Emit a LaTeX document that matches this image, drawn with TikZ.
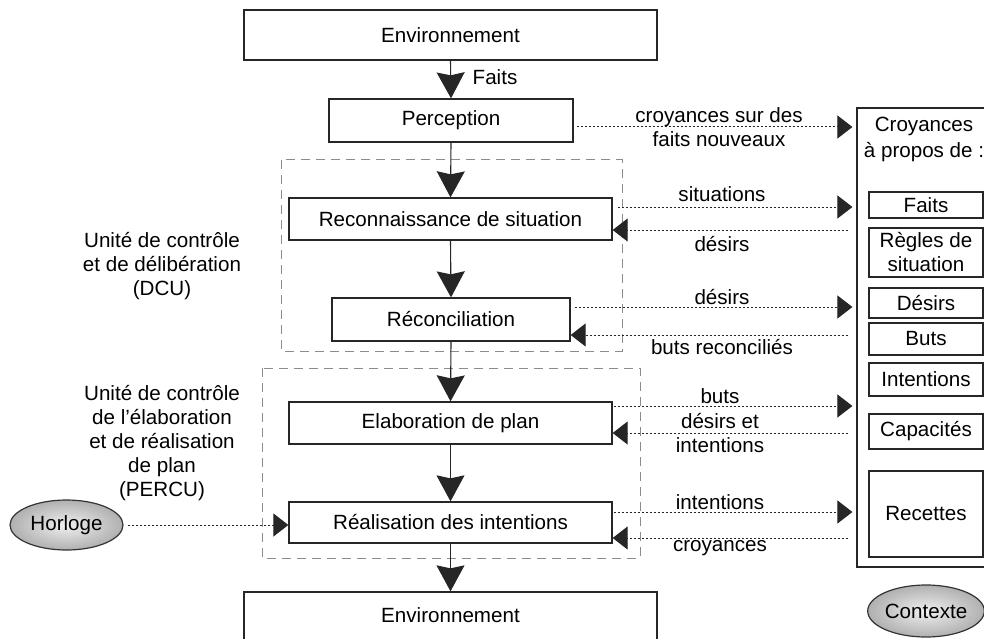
\documentclass[tikz,border=0pt]{standalone}
\usepackage{fontspec}
\setmainfont{Liberation Sans}
\usetikzlibrary{arrows.meta,shapes.geometric}

\tikzset{
  stagebox/.style={draw=black!85, line width=1.3pt, rectangle, inner sep=0pt, fill=white},
  itembox/.style={draw=black!85, line width=1.2pt, rectangle, inner sep=0pt,
                  minimum width=114pt, align=center},
  unitframe/.style={draw=black!45, line width=1pt, dash pattern=on 9pt off 6pt},
  flow/.style={draw=black!85, line width=1.1pt, -{Stealth[length=26pt,width=28pt,inset=3pt]}},
  dotarrow/.style={draw=black!85, line width=1pt, dash pattern=on 2pt off 2pt,
                   -{Triangle[length=15pt,width=23pt]}},
  lbl/.style={inner sep=0pt, align=center},
  clock/.style={ellipse, draw=black!80, line width=1.2pt, inner sep=0pt,
                shading=radial, inner color=gray!12, outer color=gray!62},
}

\begin{document}
\begin{tikzpicture}[x=1pt,y=-1pt,
  every node/.append style={font=\fontsize{20.6}{24}\selectfont}]
\useasboundingbox (0,0) rectangle (984,639);
\clip (0,0) rectangle (984,639);

% control units (dashed frames)
\draw[unitframe] (281,160) rectangle (622,351);
\draw[unitframe] (262,368) rectangle (640,558);

% processing chain
\node[stagebox, minimum width=413pt, minimum height=50pt] (envtop) at (450.5,35) {Environnement};
\node[stagebox, minimum width=244pt, minimum height=43pt] (perc) at (451,120.5) {Perception};
\node[stagebox, minimum width=323pt, minimum height=42pt] (recon) at (450.5,219) {Reconnaissance de situation};
\node[stagebox, minimum width=238pt, minimum height=43pt] (recl) at (451,319.5) {Réconciliation};
\node[stagebox, minimum width=323pt, minimum height=42pt] (elab) at (450.5,423) {Elaboration de plan};
\node[stagebox, minimum width=323pt, minimum height=41pt] (real) at (450.5,522.5) {Réalisation des intentions};
\node[stagebox, minimum width=413pt, minimum height=50pt] (envbot) at (450.5,617) {};
\node[lbl] (envbottxt) at (450.5,615) {Environnement};

\draw[flow] (envtop.south) -- (perc.north);
\draw[flow] (perc.south) -- (recon.north);
\draw[flow] (recon.south) -- (recl.north);
\draw[flow] (recl.south) -- (elab.north);
\draw[flow] (elab.south) -- (real.north);
\draw[flow] (real.south) -- (envbot.north);
\node[lbl] (faitslbl) at (495,77) {Faits};

% unit captions
\node[lbl] (dcu) at (162,266) {Unité de contrôle\\et de délibération\\(DCU)};
\node[lbl] (percu) at (162,443) {Unité de contrôle\\de l'élaboration\\et de réalisation\\de plan\\(PERCU)};

% belief store
\node[draw=black!85, line width=1.2pt, rectangle, inner sep=0pt,
      minimum width=138pt, minimum height=459pt] (col) at (926,337.5) {};
\node[lbl] (colhead) at (924,139) {Croyances\\[2pt]à propos de :};
\node[itembox, minimum height=26pt] (bfaits) at (926,205) {Faits};
\node[itembox, minimum height=49pt] (bregles) at (926,252.5) {Règles de\\situation};
\node[itembox, minimum height=30pt] (bdesirs) at (926,303) {Désirs};
\node[itembox, minimum height=32pt] (bbuts) at (926,339) {Buts};
\node[itembox, minimum height=33pt] (bint) at (926,379.5) {Intentions};
\node[itembox, minimum height=35pt] (bcap) at (926,431.5) {Capacités};
\node[itembox, minimum height=86pt] (brec) at (926,514) {Recettes};

% external inputs
\node[clock, minimum width=113pt, minimum height=50pt] (horloge) at (66.5,525) {Horloge};
\node[clock, minimum width=114pt, minimum height=52pt] (contexte) at (926,611) {Contexte};

% exchanges with the belief store
\coordinate (pOut) at ([yshift=-6.5pt]perc.east);
\coordinate (rOut) at ([yshift=12pt]recon.east);
\coordinate (rIn)  at ([yshift=-11pt]recon.east);
\coordinate (cOut) at ([yshift=12.5pt]recl.east);
\coordinate (cIn)  at ([yshift=-15.5pt]recl.east);
\coordinate (eOut) at ([yshift=17pt]elab.east);
\coordinate (eIn)  at ([yshift=-10pt]elab.east);
\coordinate (aOut) at ([yshift=10.5pt]real.east);
\coordinate (aIn)  at ([yshift=-15.5pt]real.east);

\draw[dotarrow, shorten <=3pt, shorten >=4pt] (pOut) -- (pOut -| col.west);
\draw[dotarrow, shorten <=5pt, shorten >=4pt] (rOut) -- (rOut -| col.west);
\draw[dotarrow, shorten <=8pt] (rIn -| col.west) -- (rIn);
\draw[dotarrow, shorten <=4pt, shorten >=4pt] (cOut) -- (cOut -| col.west);
\draw[dotarrow, shorten <=8pt] (cIn -| col.west) -- (cIn);
\draw[dotarrow, shorten <=1pt, shorten >=4pt] (eOut) -- (eOut -| col.west);
\draw[dotarrow, shorten <=8pt] (eIn -| col.west) -- (eIn);
\draw[dotarrow, shorten <=1pt, shorten >=4pt] (aOut) -- (aOut -| col.west);
\draw[dotarrow, shorten <=8pt] (aIn -| col.west) -- (aIn);
\draw[dotarrow, shorten <=4pt] (horloge.east) -- (horloge.east -| real.west);

\node[lbl] (l1) at (719,127) {croyances sur des\\faits nouveaux};
\node[lbl] (l2) at (722,194) {situations};
\node[lbl] (l3) at (722,244) {désirs};
\node[lbl] (l4) at (722,297) {désirs};
\node[lbl] (l5) at (722,347) {buts reconciliés};
\node[lbl] (l6) at (720,396) {buts};
\node[lbl] (l7) at (720,433) {désirs et\\intentions};
\node[lbl] (l8) at (720,502) {intentions};
\node[lbl] (l9) at (720,548) {croyances};
\end{tikzpicture}
\end{document}
